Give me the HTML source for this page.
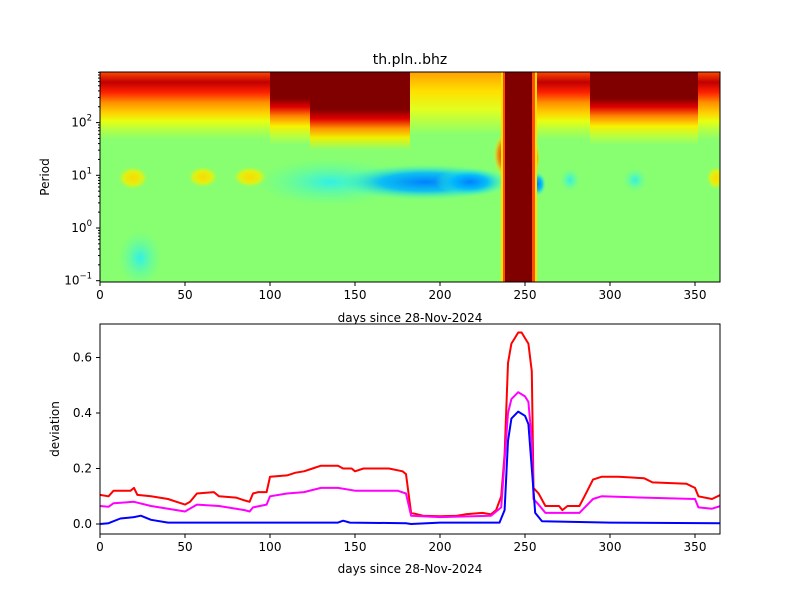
<!DOCTYPE html>
<html><head><meta charset="utf-8"><style>
body{margin:0;background:#fff;}
svg text{font-family:"DejaVu Sans","Liberation Sans",sans-serif;fill:#000;}
</style></head><body>
<svg id="s" width="800" height="600" xmlns="http://www.w3.org/2000/svg">
<defs>
<clipPath id="c1"><rect x="100" y="72" width="620" height="210"/></clipPath>
<clipPath id="c2"><rect x="100" y="324" width="620" height="210"/></clipPath>
<linearGradient id="top" x1="0" y1="72" x2="0" y2="140" gradientUnits="userSpaceOnUse">
<stop offset="0" stop-color="#ff4800"/><stop offset="0.15" stop-color="#c00000"/><stop offset="0.3" stop-color="#ff2000"/>
<stop offset="0.45" stop-color="#ff9000"/><stop offset="0.6" stop-color="#ffd000"/><stop offset="0.72" stop-color="#e8ff10"/>
<stop offset="0.86" stop-color="#b0ff48"/><stop offset="1" stop-color="#88ff70"/></linearGradient>
<linearGradient id="topL" x1="0" y1="72" x2="0" y2="135" gradientUnits="userSpaceOnUse">
<stop offset="0" stop-color="#ffa000"/><stop offset="0.3" stop-color="#ffe000"/><stop offset="0.6" stop-color="#e0ff20"/><stop offset="1" stop-color="#88ff70"/></linearGradient>
<linearGradient id="topR" x1="0" y1="72" x2="0" y2="145" gradientUnits="userSpaceOnUse">
<stop offset="0" stop-color="#800000"/><stop offset="0.36" stop-color="#800000"/><stop offset="0.48" stop-color="#e00000"/><stop offset="0.6" stop-color="#ff8000"/><stop offset="0.74" stop-color="#f8f000"/><stop offset="0.88" stop-color="#b8ff40"/><stop offset="1" stop-color="#88ff70"/></linearGradient>
<linearGradient id="topM" x1="0" y1="72" x2="0" y2="150" gradientUnits="userSpaceOnUse">
<stop offset="0" stop-color="#800000"/><stop offset="0.48" stop-color="#800000"/><stop offset="0.6" stop-color="#e00000"/><stop offset="0.72" stop-color="#ff9000"/><stop offset="0.84" stop-color="#f0f000"/><stop offset="1" stop-color="#88ff70"/></linearGradient>
<radialGradient id="yel"><stop offset="0" stop-color="#ffd800"/><stop offset="0.6" stop-color="#f0f000" stop-opacity="0.8"/><stop offset="1" stop-color="#88ff70" stop-opacity="0"/></radialGradient>
<radialGradient id="blu"><stop offset="0" stop-color="#0080ff"/><stop offset="0.5" stop-color="#00b8ff" stop-opacity="0.9"/><stop offset="1" stop-color="#40ffc0" stop-opacity="0"/></radialGradient>
<radialGradient id="cya"><stop offset="0" stop-color="#30f0e8"/><stop offset="1" stop-color="#60ffa0" stop-opacity="0"/></radialGradient>
<radialGradient id="redL"><stop offset="0" stop-color="#e00000"/><stop offset="0.6" stop-color="#ff8000" stop-opacity="0.8"/><stop offset="1" stop-color="#ffff00" stop-opacity="0"/></radialGradient>
</defs>
<rect width="800" height="600" fill="#fff"/>
<g clip-path="url(#c1)">
<rect x="100" y="72" width="620" height="210" fill="#88ff70"/>
<ellipse cx="140" cy="258" rx="22" ry="28" fill="url(#cya)"/>
<ellipse cx="330" cy="182" rx="75" ry="24" fill="url(#cya)"/>
<ellipse cx="425" cy="182" rx="90" ry="18" fill="url(#blu)"/>
<ellipse cx="470" cy="182" rx="35" ry="14" fill="url(#blu)"/>
<ellipse cx="538" cy="184" rx="8" ry="12" fill="url(#blu)"/>
<ellipse cx="570" cy="180" rx="10" ry="12" fill="url(#cya)"/>
<ellipse cx="635" cy="180" rx="12" ry="12" fill="url(#cya)"/>
<ellipse cx="133" cy="178" rx="16" ry="12" fill="url(#yel)"/>
<ellipse cx="203" cy="177" rx="16" ry="11" fill="url(#yel)"/>
<ellipse cx="250" cy="177" rx="18" ry="11" fill="url(#yel)"/>
<ellipse cx="716" cy="178" rx="10" ry="12" fill="url(#yel)"/>
<rect x="100" y="72" width="170" height="68" fill="url(#top)"/>
<rect x="410" y="72" width="95" height="63" fill="url(#topL)"/>
<rect x="532" y="72" width="58" height="68" fill="url(#top)"/>
<rect x="698" y="72" width="22" height="68" fill="url(#top)"/>
<rect x="270" y="72" width="40" height="73" fill="url(#topR)"/>
<rect x="310" y="72" width="100" height="78" fill="url(#topM)"/>
<rect x="590" y="72" width="108" height="73" fill="url(#topR)"/>
<ellipse cx="505" cy="155" rx="12" ry="22" fill="url(#redL)"/>
<ellipse cx="532" cy="158" rx="8" ry="18" fill="url(#redL)"/>
<rect x="501" y="72" width="36" height="210" fill="#ffe000"/>
<rect x="503" y="72" width="32" height="210" fill="#ff5000"/>
<rect x="505" y="72" width="27" height="210" fill="#800000"/>
</g>
<rect x="100" y="72" width="620" height="210" fill="none" stroke="#000" stroke-width="1"/>
<g clip-path="url(#c2)" fill="none" stroke-width="2" id="lines"></g>
<rect x="100" y="324" width="620" height="210" fill="none" stroke="#000" stroke-width="1"/>
<g id="ax" stroke="#000" stroke-width="1"></g>
<text x="410" y="64" font-size="14" text-anchor="middle">th.pln..bhz</text>
<text x="410" y="322" font-size="12" text-anchor="middle">days since 28-Nov-2024</text>
<text x="410" y="573" font-size="12" text-anchor="middle">days since 28-Nov-2024</text>
<text transform="translate(49,177) rotate(-90)" font-size="12" text-anchor="middle">Period</text>
<text transform="translate(59,429) rotate(-90)" font-size="12" text-anchor="middle">deviation</text>
</svg>
<script>
var NS="http://www.w3.org/2000/svg",s=document.getElementById('s'),ax=document.getElementById('ax'),L=document.getElementById('lines');
function el(t,a,p,txt){var e=document.createElementNS(NS,t);for(var k in a)e.setAttribute(k,a[k]);if(txt!==undefined)e.textContent=txt;(p||s).appendChild(e);return e;}
function X(d){return 100+d*1.7;}
[0,50,100,150,200,250,300,350].forEach(function(d){
 [282,534].forEach(function(y){el('line',{x1:X(d),x2:X(d),y1:y,y2:y+4},ax);el('text',{x:X(d),y:y+17,'font-size':12,'text-anchor':'middle'},s,d);});
});
function LY(v){return 228-52.7*Math.log10(v);}
[-1,0,1,2].forEach(function(e){var y=LY(Math.pow(10,e));el('line',{x1:96,x2:100,y1:y,y2:y},ax);
 var t=el('text',{x:92,y:y+4,'font-size':12,'text-anchor':'end'});
 var a=document.createElementNS(NS,'tspan');a.textContent='10';t.appendChild(a);
 var b=document.createElementNS(NS,'tspan');b.setAttribute('dy','-6');b.setAttribute('font-size','8.5');b.textContent=String(e).replace('-','\u2212');t.appendChild(b);
});
for(var e=-1;e<3;e++)for(var m=2;m<10;m++){var y=LY(m*Math.pow(10,e));if(y>=72)el('line',{x1:98,x2:100,y1:y,y2:y},ax);}
function VY(v){return 524-v*277.5;}
[0,0.2,0.4,0.6].forEach(function(v){var y=VY(v);el('line',{x1:96,x2:100,y1:y,y2:y},ax);el('text',{x:92,y:y+4,'font-size':12,'text-anchor':'end'},s,v.toFixed(1));});
function path(pts,c){var d='';for(var i=0;i<pts.length;i+=2)d+=(i?'L':'M')+X(pts[i]).toFixed(1)+','+VY(pts[i+1]).toFixed(1);el('path',{d:d,stroke:c,'stroke-linejoin':'round'},L);}
path([0,.105,5,.1,8,.12,18,.12,20,.13,22,.105,30,.1,40,.09,45,.08,50,.07,53,.08,57,.11,67,.115,70,.1,80,.095,85,.085,88,.08,90,.11,93,.115,98,.115,100,.17,110,.175,115,.185,120,.19,125,.2,130,.21,140,.21,143,.2,148,.2,150,.19,155,.2,170,.2,178,.19,180,.18,183,.04,190,.03,200,.028,210,.03,215,.035,225,.04,230,.035,233,.05,236,.1,238,.25,240,.58,242,.65,244,.67,246,.69,248,.69,250,.67,252,.65,254,.55,255,.13,258,.11,262,.065,270,.065,272,.05,275,.065,282,.065,285,.1,290,.16,295,.17,305,.17,320,.165,325,.15,345,.145,350,.13,352,.1,360,.09,365,.105],'#ff0000');
path([0,.065,5,.062,8,.075,20,.08,30,.065,45,.05,50,.045,57,.07,70,.065,85,.05,88,.045,90,.06,98,.07,100,.1,110,.11,120,.115,130,.13,140,.13,150,.12,175,.12,180,.11,183,.03,200,.025,230,.03,236,.06,240,.4,242,.45,246,.475,250,.46,252,.44,254,.3,255,.09,258,.07,262,.04,282,.04,290,.09,295,.1,320,.095,350,.09,352,.06,360,.055,365,.065],'#ff00ff');
path([0,0,5,.003,12,.02,20,.025,24,.03,30,.015,40,.005,100,.005,140,.005,143,.012,147,.005,180,.003,183,0,200,.005,235,.005,238,.05,240,.3,242,.38,246,.405,250,.39,252,.36,254,.2,256,.04,260,.01,300,.005,365,.003],'#0000ff');
</script>
</body></html>
